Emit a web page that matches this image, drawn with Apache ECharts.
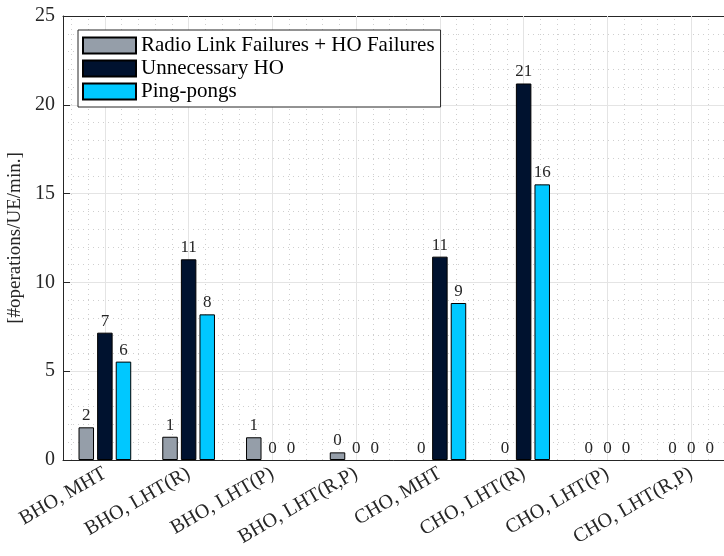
<!DOCTYPE html>
<html>
<head>
<meta charset="utf-8">
<script src="https://cdn.jsdelivr.net/npm/echarts@6/dist/echarts.min.js"></script>
<style>html,body{margin:0;padding:0;background:#fff;}#c{width:724px;height:556px;}</style>
</head>
<body>
<div id="c"></div>
<script>
const categories = ['BHO, MHT', 'BHO, LHT(R)', 'BHO, LHT(P)', 'BHO, LHT(R,P)', 'CHO, MHT', 'CHO, LHT(R)', 'CHO, LHT(P)', 'CHO, LHT(R,P)'];
const seriesNames = ['Radio Link Failures + HO Failures', 'Unnecessary HO', 'Ping-pongs'];
const rlfValues = [1.84, 1.31, 1.28, 0.43, 0, 0, 0, 0];
const unnecessaryValues = [7.17, 11.3, 0, 0, 11.45, 21.2, 0, 0];
const pingpongValues = [5.54, 8.2, 0, 0, 8.84, 15.52, 0, 0];
const yTicks = [0, 5, 10, 15, 20, 25];

const FONT = "'Liberation Serif', 'Times New Roman', serif";
const TXT = '#262626';
const colors = ['#959ea9', '#00122f', '#00c8ff'];

// vertical grid line positions derived from category indices
const majorX = categories.map((c, i) => i);
const minorX = [];
categories.forEach((c, i) => { [-0.4, -0.2, 0.2, 0.4].forEach(o => minorX.push(i + o)); });

function barSeries(name, data, color) {
  return {
    name: name, type: 'bar', xAxisIndex: 0, yAxisIndex: 0,
    data: data.map(v => ({ value: v, itemStyle: { borderWidth: v === 0 ? 0 : 1 } })),
    barWidth: 15.5, barGap: '20%', z: 3,
    itemStyle: { color: color, borderColor: '#000', borderWidth: 1 },
    label: { show: true, position: 'top', distance: 3, fontFamily: FONT, fontSize: 17, color: TXT,
      formatter: p => String(Math.round(p.value)) }
  };
}

const chart = echarts.init(document.getElementById('c'), null, { renderer: 'canvas' });
chart.setOption({
  animation: false,
  backgroundColor: '#fff',
  grid: { left: 63, top: 16, width: 670, height: 444, containLabel: false, outerBoundsMode: 'none' },
  legend: {
    orient: 'vertical', left: 78, top: 30,
    itemWidth: 53, itemHeight: 16, itemGap: 2,
    padding: [5, 6, 5, 4],
    borderColor: '#262626', borderWidth: 1, backgroundColor: '#fff',
    icon: 'rect',
    textStyle: { fontFamily: FONT, fontSize: 21, color: '#000' },
    data: seriesNames
  },
  xAxis: [
    {
      type: 'category', data: categories, position: 'bottom',
      axisLine: { show: true, onZero: false, lineStyle: { color: TXT, width: 1 } },
      axisTick: { show: true, inside: true, alignWithLabel: true, length: 7, lineStyle: { color: TXT } },
      axisLabel: { rotate: 30, margin: 12, fontFamily: FONT, fontSize: 20, color: TXT, interval: 0 },
      splitLine: { show: false }
    },
    {
      type: 'value', min: -0.5, max: 7.5, show: false,
      axisLine: { onZero: false }
    },
    {
      type: 'category', data: categories, position: 'top',
      axisLine: { show: true, onZero: false, lineStyle: { color: TXT, width: 1 } },
      axisTick: { show: true, inside: true, alignWithLabel: true, length: 7, lineStyle: { color: TXT } },
      axisLabel: { show: false },
      splitLine: { show: false }
    }
  ],
  yAxis: {
    type: 'value', min: yTicks[0], max: yTicks[yTicks.length - 1], interval: yTicks[1] - yTicks[0],
    name: '[#operations/UE/min.]', nameLocation: 'middle', nameGap: 33, nameRotate: 90,
    nameTextStyle: { fontFamily: FONT, fontSize: 19, color: TXT },
    axisLine: { show: true, onZero: false, lineStyle: { color: TXT, width: 1 } },
    axisTick: { show: true, inside: true, length: 7, lineStyle: { color: TXT } },
    axisLabel: { fontFamily: FONT, fontSize: 20, color: TXT, margin: 8 },
    splitLine: { show: true, lineStyle: { color: '#e4e4e4', width: 1 } },
    minorTick: { show: false, splitNumber: 5 },
    minorSplitLine: { show: true, lineStyle: { color: '#cfcfcf', width: 1, type: [1, 4] } }
  },
  series: [
    barSeries(seriesNames[0], rlfValues, colors[0]),
    barSeries(seriesNames[1], unnecessaryValues, colors[1]),
    barSeries(seriesNames[2], pingpongValues, colors[2]),
    {
      type: 'line', xAxisIndex: 1, yAxisIndex: 0, data: [[-0.5, 0]], symbol: 'none', silent: true,
      lineStyle: { opacity: 0 }, z: 1,
      markLine: {
        silent: true, symbol: 'none', z: 1, animation: false,
        label: { show: false },
        data: majorX.map(v => ({ xAxis: v, lineStyle: { color: '#e4e4e4', width: 1, type: 'solid' } }))
          .concat(minorX.map(v => ({ xAxis: v, lineStyle: { color: '#cfcfcf', width: 1, type: [1, 4] } })))
      }
    }
  ]
});
</script>
</body>
</html>
